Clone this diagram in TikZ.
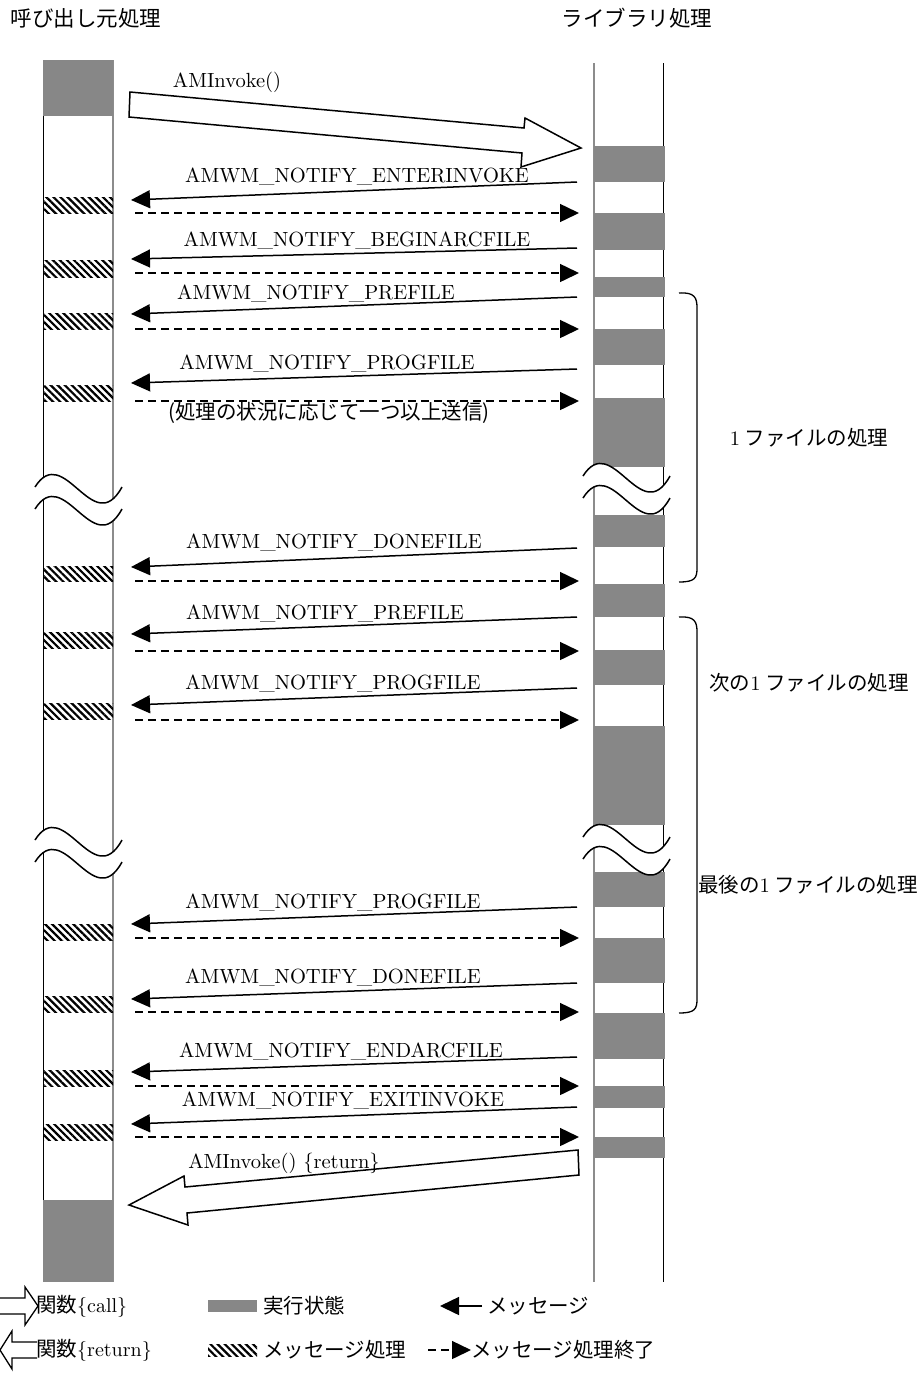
\documentclass[tikz,border=0pt]{standalone}
\usepackage{fontspec}
\setmainfont{lmroman10-regular}[Extension=.otf]
\newfontfamily\jp{Noto Sans CJK JP}
\usetikzlibrary{arrows.meta,patterns,patterns.meta}
\tikzset{
 exec/.style={fill=black!47},
 hatch/.style={pattern={Lines[angle=-45,distance=5pt,line width=2.2pt]}},
 msg/.style={line width=1.5pt,-{Triangle[length=19pt,width=18pt]}},
 done/.style={line width=1.5pt,dash pattern=on 8pt off 5pt,-{Triangle[length=19pt,width=18pt]}},
 lbl/.style={anchor=base,inner sep=0pt,font=\fontsize{20.5}{24}\selectfont},
 jlbl/.style={inner sep=0pt,font=\jp\fontsize{20.5}{24}\selectfont},
 bigarrow/.style={draw,line width=1.5pt,fill=white,line join=miter},
 wave/.style={line width=1.5pt},
 brace/.style={line width=1.3pt},
 life/.style={line width=1pt},
 lifeg/.style={line width=1.3pt,black!45},
}
\newcommand\wavepair[2]{%
 \begin{scope}[shift={(#1,#2)}]
 \fill[white] (0,0) .. controls (29,-46) and (58,53) .. (87,0) -- (87,22) .. controls (58,75) and (29,-24) .. (0,22) -- cycle;
 \draw[wave] (0,0) .. controls (29,-46) and (58,53) .. (87,0);
 \draw[wave] (0,22) .. controls (29,-24) and (58,75) .. (87,22);
 \end{scope}}
\begin{document}
\begin{tikzpicture}[x=1pt,y=-1pt]
\useasboundingbox (0,0) rectangle (921,1374);
% titles
\node[jlbl,font=\jp\fontsize{21.5}{24}\selectfont] (t1) at (86,18) {呼び出し元処理};
\node[jlbl,font=\jp\fontsize{21.5}{24}\selectfont] (t2) at (637,18) {ライブラリ処理};
% lifelines
\draw[life] (43,60) -- (43,1282);
\draw[lifeg] (113,60) -- (113,1282);
\draw[lifeg] (594,63) -- (594,1282);
\draw[life] (663,63) -- (663,1282);
% caller blocks
\fill[exec] (43,60) rectangle (113,116);
\fill[exec] (43,1200) rectangle (113,1282);
\foreach \a/\b in {197/213,260/277,313/329,385/401,566/581,632/648,703/719,924/940,996/1012,1070/1086,1124/1140}
 \fill[hatch] (43,\a) rectangle (113,\b);
% library blocks
\foreach \a/\b in {146/182,213/250,277/297,329/365,398/467,515/547,584/617,650/685,726/825,872/907,938/983,1013/1059,1086/1108,1137/1158}
 \fill[exec] (594,\a) rectangle (665,\b);
% waves
\wavepair{35}{487}
\wavepair{583}{476}
\wavepair{35}{840}
\wavepair{583}{837}
% big call arrow
\draw[bigarrow] (130,92) -- (524,128) -- (525,118) -- (581,148) -- (521,167) -- (522,153) -- (129,117) -- cycle;
\node[lbl] (call) at (227,87) {AMInvoke()};
% messages
\foreach \i/\yr/\yl/\yd/\lx/\ly/\txt in {
 1/182/200/213/357/182/ENTERINVOKE,
 2/248/259/273/357/246/BEGINARCFILE,
 3/297/314/329/316/299/PREFILE,
 4/369/383/401/327/369/PROGFILE,
 5/548/567/581/334/548/DONEFILE,
 6/617/634/651/325/619/PREFILE,
 7/688/705/720/333/689/PROGFILE,
 8/907/924/938/333/908/PROGFILE,
 9/983/999/1012/333/983/DONEFILE,
 10/1057/1072/1086/341/1057/ENDARCFILE,
 11/1107/1124/1137/343/1106/EXITINVOKE}{
 \coordinate (s\i) at (577,\yr);
 \coordinate (e\i) at (131,\yl);
 \draw[msg] (s\i) -- (e\i);
 \coordinate (ds\i) at (135,\yd);
 \coordinate (de\i) at (579,\yd);
 \draw[done] (ds\i) -- (de\i);
 \node[lbl] (l\i) at (\lx,\ly) {AMWM\_NOTIFY\_\txt};
}
\node[jlbl] (note) at (329,413) {(処理の状況に応じて一つ以上送信)};
% return arrow
\draw[bigarrow] (578,1150) -- (579,1175) -- (187,1213) -- (188,1225) -- (129,1205) -- (184,1176) -- (185,1187) -- cycle;
\node[lbl] (ret) at (284,1168) {AMInvoke() \{return\}};
% braces
\draw[brace] (679,293) .. controls (695,292) and (697,298) .. (697,308) -- (697,568) .. controls (697,578) and (695,582) .. (679,582);
\draw[brace] (679,617) .. controls (695,616) and (697,622) .. (697,632) -- (697,999) .. controls (697,1009) and (695,1013) .. (679,1013);
\node[jlbl] (b1) at (809,438) {{\rmfamily 1} ファイルの処理};
\node[jlbl] (b2) at (809,683) {次の{\rmfamily 1} ファイルの処理};
\node[jlbl] (b3) at (808,885) {最後の{\rmfamily 1} ファイルの処理};
% legend
\draw[bigarrow,line width=1.3pt] (0,1298) -- (25,1298) -- (25,1287) -- (38,1306) -- (25,1325) -- (25,1314) -- (0,1314);
\node[jlbl,anchor=west] (lg1) at (36,1306) {関数{\rmfamily\fontsize{20}{22}\selectfont\{call\}}};
\draw[bigarrow,line width=1.3pt] (37,1342) -- (12,1342) -- (12,1331) -- (0,1350) -- (12,1369) -- (12,1358) -- (37,1358);
\node[jlbl,anchor=west] (lg2) at (36,1350) {関数{\rmfamily\fontsize{20}{22}\selectfont\{return\}}};
\fill[exec] (208,1300) rectangle (257,1312);
\node[jlbl,anchor=west] (lg3) at (263,1306) {実行状態};
\fill[hatch] (208,1344) rectangle (257,1356);
\node[jlbl,anchor=west] (lg4) at (263,1350) {メッセージ処理};
\coordinate (la) at (482,1306);
\coordinate (lb) at (440,1306);
\draw[msg] (la) -- (lb);
\node[jlbl,anchor=west] (lg5) at (487,1306) {メッセージ};
\coordinate (lc) at (428,1350);
\coordinate (ld) at (471,1350);
\draw[done] (lc) -- (ld);
\node[jlbl,anchor=west] (lg6) at (471,1350) {メッセージ処理終了};
\end{tikzpicture}
\end{document}
